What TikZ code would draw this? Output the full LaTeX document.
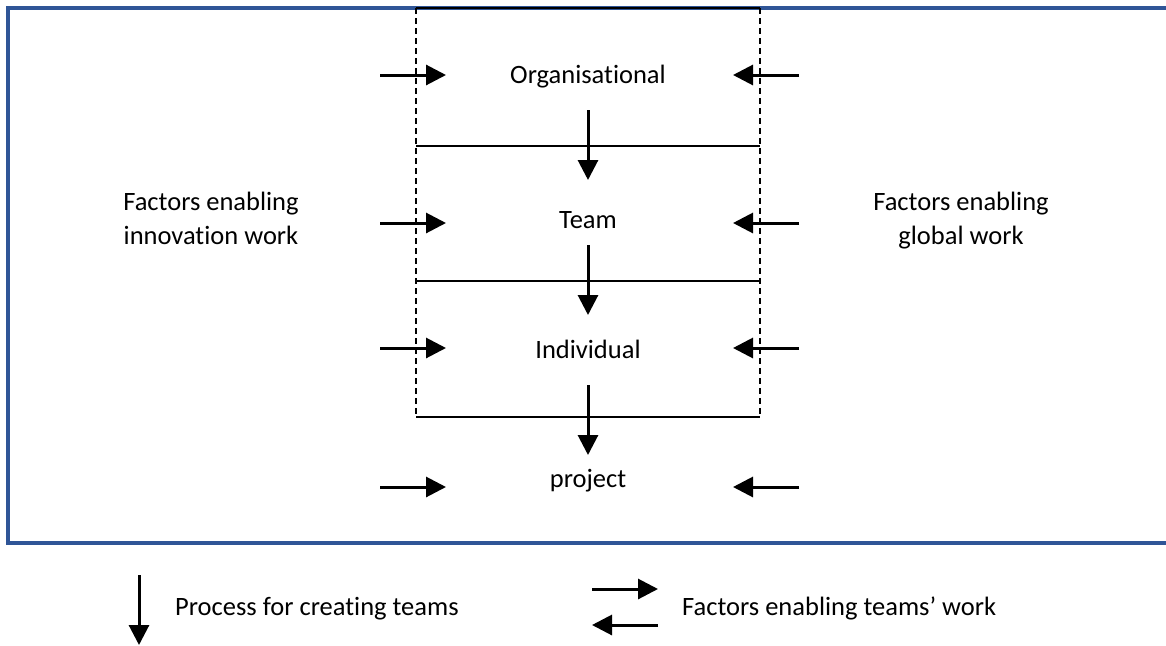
\documentclass[tikz,border=0pt]{standalone}
\usepackage{fontspec}
\setmainfont{Carlito}[Ligatures=NoCommon]
\usetikzlibrary{arrows.meta}
\definecolor{frameblue}{RGB}{47,85,151}
\tikzset{
  lbl/.style={inner sep=0pt, font=\fontsize{26.5}{34}\selectfont},
  flow/.style={line width=3pt, -{Triangle[length=20pt,width=20pt]}},
  sep/.style={line width=1.5pt},
  dashside/.style={line width=1.2pt, dash pattern=on 6pt off 4pt},
  frame/.style={draw=frameblue, line width=3.3pt}
}
\begin{document}
\begin{tikzpicture}[x=1pt,y=-1pt]
\useasboundingbox (0,0) rectangle (1166,645);
% blue frame (open on the right)
\draw[frame] (1180,8) -- (8,8) -- (8,543) -- (1180,543);
% levels box
\coordinate (bTL) at (416,8);
\coordinate (bTR) at (760,8);
\coordinate (bBL) at (416,417);
\coordinate (bBR) at (760,417);
\draw[dashside] (bTL) -- (bBL);
\draw[dashside] (bTR) -- (bBR);
\draw[sep] (bTL) -- (bTR);
\draw[sep] (416,146) coordinate (s1L) -- (760,146) coordinate (s1R);
\draw[sep] (416,281) coordinate (s2L) -- (760,281) coordinate (s2R);
\draw[sep] (bBL) -- (bBR);
% level labels
\node[lbl, anchor=base] (org) at (588,83) {Organisational};
\node[lbl, anchor=base] (team) at (588,228) {Team};
\node[lbl, anchor=base] (ind) at (588,358) {Individual};
\node[lbl, anchor=base] (proj) at (588,487) {project};
% side labels
\node[lbl, align=center, anchor=north] (innov) at (211,192) {Factors enabling\\innovation work};
\node[lbl, align=center, anchor=north] (glob) at (961,192) {Factors enabling\\global work};
% down process arrows
\coordinate (d1a) at (588,110); \coordinate (d1b) at (588,180);
\coordinate (d2a) at (588,245); \coordinate (d2b) at (588,315);
\coordinate (d3a) at (588,385); \coordinate (d3b) at (588,455);
\draw[flow] (d1a) -- (d1b);
\draw[flow] (d2a) -- (d2b);
\draw[flow] (d3a) -- (d3b);
% enabling arrows
\foreach \n/\y in {a/75, b/223, c/348, d/487}{
  \coordinate (l\n s) at (380,\y); \coordinate (l\n e) at (446,\y);
  \coordinate (r\n s) at (799,\y); \coordinate (r\n e) at (733,\y);
  \draw[flow] (l\n s) -- (l\n e);
  \draw[flow] (r\n s) -- (r\n e);
}
% legend
\coordinate (g1a) at (139,575); \coordinate (g1b) at (139,645);
\draw[flow] (g1a) -- (g1b);
\node[lbl, anchor=base west] (legproc) at (175,615) {Process for creating teams};
\coordinate (g2a) at (592,589); \coordinate (g2b) at (658,589);
\coordinate (g3a) at (658,625); \coordinate (g3b) at (592,625);
\draw[flow] (g2a) -- (g2b);
\draw[flow] (g3a) -- (g3b);
\node[lbl, anchor=base west] (legfac) at (682,615) {Factors enabling teams’ work};
\end{tikzpicture}
\end{document}
